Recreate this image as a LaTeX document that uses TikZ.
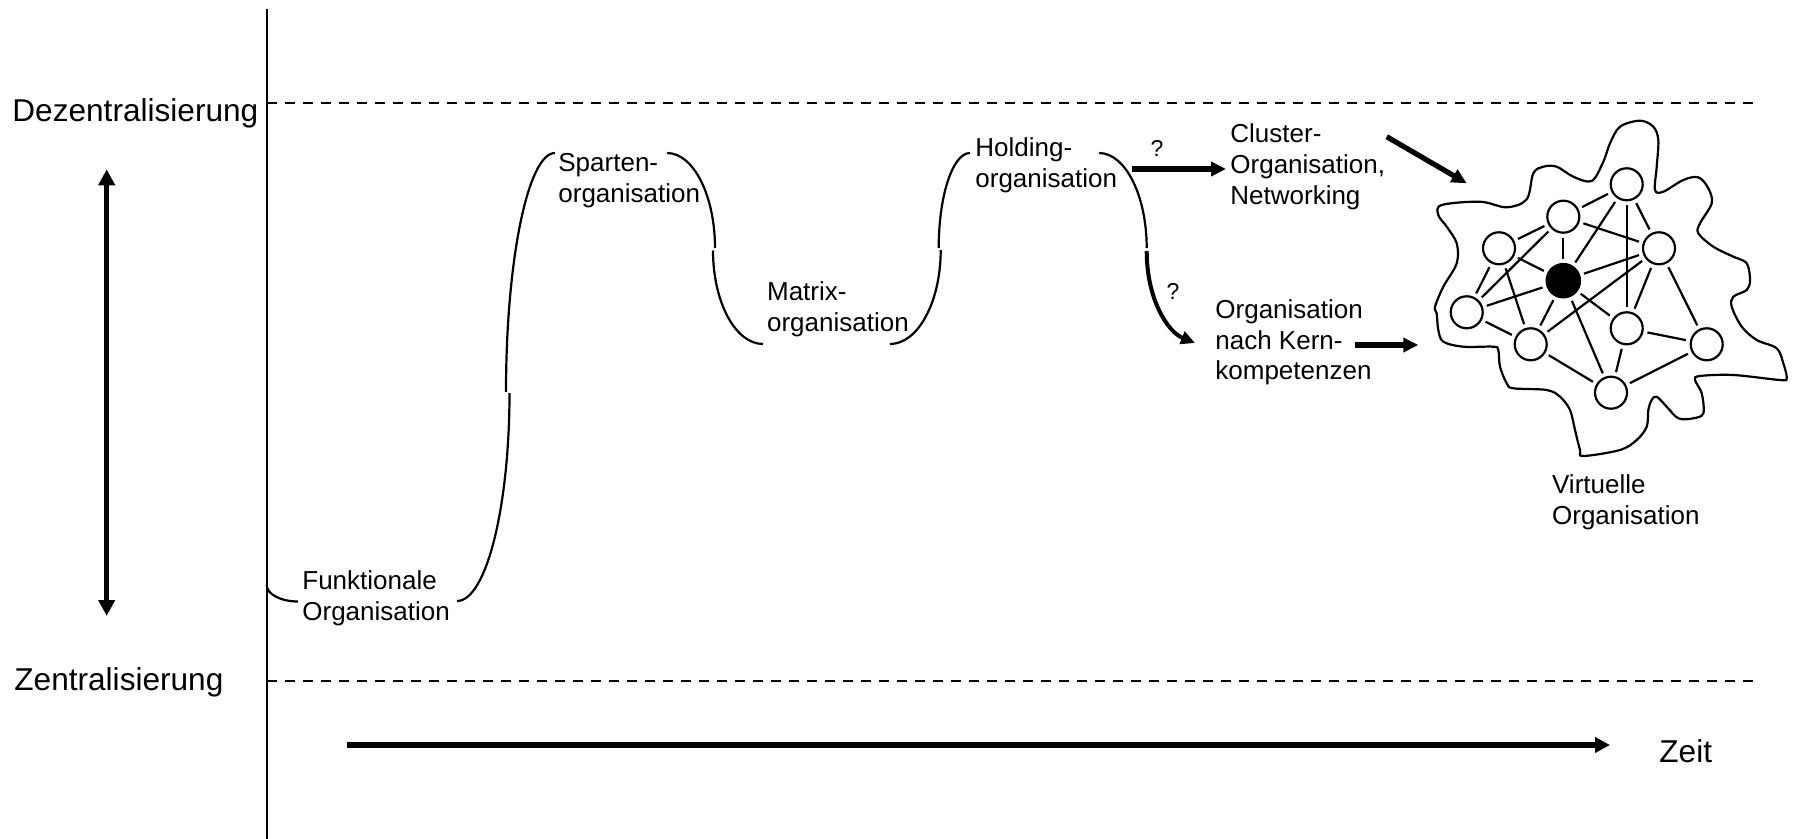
\documentclass[tikz,border=0pt]{standalone}
\usepackage{fontspec}
\setmainfont{Liberation Sans}
\usetikzlibrary{arrows.meta}
\begin{document}
\begin{tikzpicture}[x=0.5pt,y=-0.5pt,
  axisline/.style={line width=1.2pt},
  level/.style={line width=1pt, dash pattern=on 5pt off 4pt},
  bracket/.style={line width=1.1pt},
  fat/.style={line width=2.6pt, -{Triangle[length=7.5pt,width=7pt]}},
  curvedfat/.style={line width=2pt, -{Triangle[length=7pt,width=6.5pt]}},
  lbl/.style={inner sep=0pt, anchor=base west, align=left, font=\fontsize{13}{15.5}\selectfont},
  big/.style={inner sep=0pt, anchor=base west, font=\fontsize{15.8}{19}\selectfont},
  qm/.style={inner sep=0pt, font=\fontsize{11.5}{13}\selectfont},
  knot/.style={circle, draw, line width=1.1pt, minimum size=16pt, inner sep=0pt, fill=white},
  hub/.style={circle, draw, fill=black, line width=1.1pt, minimum size=16.7pt, inner sep=0pt},
  link/.style={line width=1.1pt, shorten <=2pt, shorten >=2pt}
]
\useasboundingbox (0,0) rectangle (1793,839);

% axis and level lines
\coordinate (axtop) at (266.7,9);
\coordinate (axbot) at (266.7,839);
\draw[axisline] (axtop) -- (axbot);
\coordinate (dz1) at (266.7,103.3);
\coordinate (dz2) at (1755,103.3);
\coordinate (z1) at (266.7,680.7);
\coordinate (z2) at (1755,680.7);
\draw[level] (dz1) -- (dz2);
\draw[level] (z1) -- (z2);

% side labels
\node[big] (dez) at (12,121.7) {Dezentralisierung};
\node[big] (zen) at (14,690.7) {Zentralisierung};
\node[big] (zeit) at (1659,762.7) {Zeit};

% vertical double arrow
\coordinate (va1) at (106.7,169.3);
\coordinate (va2) at (106.7,616);
\draw[line width=2.5pt, {Triangle[length=8pt,width=8pt]}-{Triangle[length=8pt,width=8pt]}] (va1) -- (va2);

% time arrow
\coordinate (t1) at (346.7,745);
\coordinate (t2) at (1610,745);
\draw[line width=3pt, -{Triangle[length=7.5pt,width=7.5pt]}] (t1) -- (t2);

% stage labels (anchored at the baseline of their last line)
\node[lbl] (funk) at (302,620) {Funktionale\\Organisation};
\node[lbl] (spar) at (558,203) {Sparten-\\organisation};
\node[lbl] (matr) at (766.7,331.7) {Matrix-\\organisation};
\node[lbl] (hold) at (975,188) {Holding-\\organisation};
\node[lbl] (clus) at (1230,205) {Cluster-\\Organisation,\\Networking};
\node[lbl] (kern) at (1215,380) {Organisation\\nach Kern-\\kompetenzen};
\node[lbl] (virt) at (1551.7,524) {Virtuelle\\Organisation};

% brackets / transition curves
\draw[bracket] (266.7,585) .. controls (266.7,594.1) and (280.7,601.5) .. (298,601.5);
\draw[bracket] (457,601) .. controls (486,601) and (509.5,507.8) .. (509.5,393);
\draw[bracket] (506,392) .. controls (506,260.1) and (528,153) .. (555,153);
\draw[bracket] (667,153) .. controls (693.5,153) and (715,195.6) .. (715,248);
\draw[bracket] (713,250.5) .. controls (713,302.1) and (735.4,344) .. (763,344);
\draw[bracket] (890,344) .. controls (918,344) and (940.7,301.9) .. (940.7,250);
\draw[bracket] (938.7,248) .. controls (938.7,195.6) and (952.7,153) .. (970,153);
\draw[bracket] (1099,153) .. controls (1125.3,153) and (1146.7,195.6) .. (1146.7,248);

% question arrows
\coordinate (q1s) at (1131.7,169);
\coordinate (q1e) at (1226,169);
\draw[fat] (q1s) -- (q1e);
\node[qm] (q1) at (1157,148) {?};
\coordinate (q2s) at (1146.7,251);
\coordinate (q2e) at (1195,343);
\draw[curvedfat] (q2s) .. controls (1146.7,300) and (1168,332) .. (q2e);
\node[qm] (q2) at (1173,291.7) {?};

% arrows into the virtual organisation
\coordinate (c1s) at (1386.7,136.7);
\coordinate (c1e) at (1466.7,183.3);
\draw[fat] (c1s) -- (c1e);
\coordinate (k1s) at (1355,345);
\coordinate (k1e) at (1418.3,345);
\draw[fat] (k1s) -- (k1e);

% blob outline
\draw[bracket] plot[smooth cycle, tension=0.55] coordinates {
(1441.7,205) (1480,201.7) (1506.7,207.3) (1526.7,199.3) (1533.3,173.3)
(1543.3,166.7) (1556.7,166.7) (1573.3,176.7) (1591.7,181) (1603.3,161.7)
(1610,143.3) (1620,126.7) (1640,120.7) (1653.3,126.7) (1658.3,140)
(1656.7,166.7) (1655,190) (1663.3,191.7) (1683.3,180) (1698.3,177.3)
(1708.3,188.3) (1711.7,203.3) (1700,223.3) (1698.3,233.3) (1713.3,246.7)
(1733.3,256.7) (1746.7,263.3) (1750,280) (1746.7,290) (1733.3,296.7)
(1731.7,306.7) (1741.7,326.7) (1756.7,340) (1776.7,348.3) (1783.3,363.3)
(1786.7,378.3) (1780,380) (1733.3,375) (1700,376) (1695,380)
(1701.7,393.3) (1703.3,413.3) (1693.3,418.3) (1678.3,418.3) (1666.7,406.7)
(1656.7,396.7) (1651.7,400) (1648.3,410) (1646.7,426.7) (1636.7,440)
(1620,450) (1583.3,456) (1580,450) (1575,430) (1570,410)
(1560,396.7) (1546.7,390) (1513.3,388.3) (1506.7,383.3) (1500,366.7)
(1498.3,350) (1493.3,346.7) (1463.3,346.7) (1443.3,341.7) (1438.3,330)
(1436.7,313.3) (1435,306.7) (1443.3,286.7) (1456.7,263.3) (1456.7,243.3)
(1446.7,226.7) (1438.3,215)};

% network
\node[knot] (n1) at (1626.7,184.3) {};
\node[knot] (n2) at (1563.3,216.7) {};
\node[knot] (n3) at (1499,248.3) {};
\node[knot] (n4) at (1659,248.3) {};
\node[hub]  (c)  at (1563.3,280.7) {};
\node[knot] (n5) at (1466.7,312.3) {};
\node[knot] (n6) at (1530.7,344.3) {};
\node[knot] (n7) at (1626.7,328.3) {};
\node[knot] (n8) at (1706.7,344.3) {};
\node[knot] (n9) at (1611,392.7) {};

\foreach \a/\b in {n2/n1, n3/n2, n2/c, n2/n4, c/n1, n1/n7, n1/n4, n5/n2,
                   n3/c, n5/c, n5/n3, n3/n6, c/n4, n6/n4, n6/c, c/n7,
                   c/n9, n7/n4, n4/n8, n5/n6, n7/n8, n6/n9, n7/n9, n9/n8}
  \draw[link] (\a) -- (\b);
\end{tikzpicture}
\end{document}
